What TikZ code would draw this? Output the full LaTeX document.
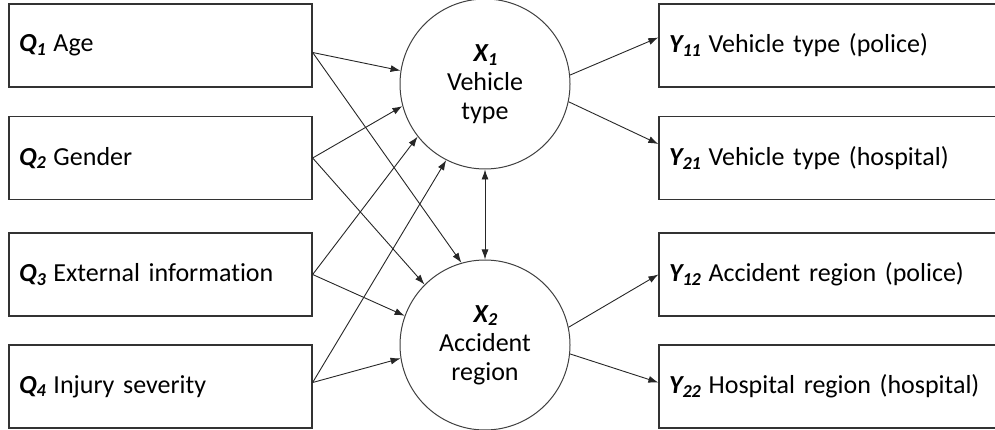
\documentclass[tikz,border=0pt]{standalone}
\usepackage{fontspec}
\setmainfont{Carlito}[Ligatures=NoCommon]
\usetikzlibrary{arrows.meta}
\setlength{\parindent}{0pt}
\newcommand{\lvar}[2]{\textbf{\textit{#1\textsubscript{#2}}}\kern-1.5pt\relax}
\newcommand{\boxfont}{\fontsize{26}{31}\selectfont\spaceskip=6.5pt plus 2pt minus 1pt\relax}
\tikzset{
  qbox/.style={draw=black!80, line width=1.3pt, minimum height=83pt, inner xsep=10pt, text width=283pt, font=\boxfont},
  ybox/.style={qbox, inner xsep=10pt, text width=324pt},
  latent/.style={draw=black!75, line width=1pt, circle, minimum size=170pt, inner sep=0pt, align=center, font=\fontsize{26}{29}\selectfont},
  arr/.style={-{Latex[length=10pt,width=7pt]}, line width=0.9pt, black!85},
  darr/.style={{Latex[length=10pt,width=7pt]}-{Latex[length=10pt,width=7pt]}, line width=0.9pt, black!85}
}
\begin{document}
\begin{tikzpicture}[x=1pt, y=-1pt]
\useasboundingbox (0,0) rectangle (995,430);

\node[qbox] (q1) at (160.5,45.5) {\lvar{Q}{1} Age};
\node[qbox] (q2) at (160.5,158) {\lvar{Q}{2} Gender};
\node[qbox] (q3) at (160.5,274.5) {\lvar{Q}{3} External information};
\node[qbox] (q4) at (160.5,386.5) {\lvar{Q}{4} Injury severity};

\node[latent] (x1) at (485,84) {\lvar{X}{1}\\Vehicle\\type};
\node[latent] (x2) at (485,345) {\lvar{X}{2}\\Accident\\region};

\node[ybox] (y11) at (831,45.5) {\lvar{Y}{11} Vehicle type (police)};
\node[ybox] (y21) at (831,158) {\lvar{Y}{21} Vehicle type (hospital)};
\node[ybox] (y12) at (831,274.5) {\lvar{Y}{12} Accident region (police)};
\node[ybox] (y22) at (831,386.5) {\lvar{Y}{22} Hospital region (hospital)};

\draw[arr] ([yshift=-7pt]q1.east) -- (x1.171);
\draw[arr] ([yshift=-7pt]q1.east) -- (x2.106);
\draw[arr] (q2.east) -- (x1.195);
\draw[arr] (q2.east) -- (x2.135);
\draw[arr] (q3.east) -- (x1.218);
\draw[arr] (q3.east) -- (x2.160);
\draw[arr] ([yshift=4pt]q4.east) -- (x1.243);
\draw[arr] ([yshift=4pt]q4.east) -- (x2.189);

\draw[darr] (x1.south) -- (x2.north);

\draw[arr] (x1.6) -- ([yshift=8pt]y11.west);
\draw[arr] (x1.-12) -- ([yshift=14pt]y21.west);
\draw[arr] (x2.12) -- (y12.west);
\draw[arr] (x2.-6) -- ([yshift=4pt]y22.west);
\end{tikzpicture}
\end{document}
